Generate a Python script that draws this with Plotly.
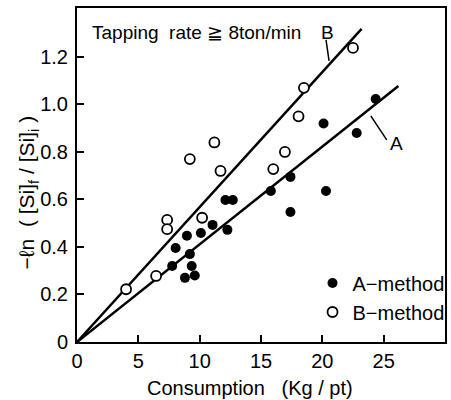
import plotly.graph_objects as go

# A-method (filled) points
a_x = [24.35, 22.8, 20.1, 20.3, 17.4, 15.8, 17.4, 12.1, 12.7, 11.05, 12.26, 10.1, 8.96, 8.04, 9.2, 7.76, 9.35, 8.8, 9.6]
a_y = [1.023, 0.88, 0.92, 0.636, 0.695, 0.636, 0.547, 0.598, 0.598, 0.493, 0.472, 0.459, 0.447, 0.396, 0.37, 0.32, 0.32, 0.27, 0.28]
# B-method (open) points
b_x = [22.5, 18.5, 18.06, 16.95, 16.0, 11.2, 9.2, 11.7, 10.2, 7.35, 7.35, 6.45, 4.0]
b_y = [1.238, 1.07, 0.95, 0.80, 0.728, 0.84, 0.77, 0.72, 0.523, 0.514, 0.475, 0.278, 0.222]
# fitted lines
line_a_x = [0, 26.2]
line_a_y = [0, 1.078]
line_b_x = [0, 23.2]
line_b_y = [0, 1.318]

x_ticks = [0, 5, 10, 15, 20, 25]
x_tick_text = ["0", "5", "10", "15", "20", "25"]
y_ticks = [0, 0.2, 0.4, 0.6, 0.8, 1.0, 1.2]
y_tick_text = ["0", "0.2", "0.4", "0.6", "0.8", "1.0", "1.2"]

FONT = "Liberation Sans"

fig = go.Figure()
fig.add_trace(go.Scatter(x=line_b_x, y=line_b_y, mode="lines",
                         line=dict(color="black", width=2.5), showlegend=False))
fig.add_trace(go.Scatter(x=line_a_x, y=line_a_y, mode="lines",
                         line=dict(color="black", width=2.5), showlegend=False))
fig.add_trace(go.Scatter(x=a_x, y=a_y, mode="markers", name="A\u2212method",
                         marker=dict(symbol="circle", size=10, color="black",
                                     line=dict(color="black", width=0))))
fig.add_trace(go.Scatter(x=b_x, y=b_y, mode="markers", name="B\u2212method",
                         marker=dict(symbol="circle", size=10, color="white",
                                     line=dict(color="black", width=1.8))))

# labels and leaders
fig.add_annotation(x=20.4, y=1.302, text="B", showarrow=False, xanchor="center",
                   yanchor="middle", font=dict(size=19, family=FONT, color="black"))
fig.add_annotation(x=26.05, y=0.834, text="A", showarrow=False, xanchor="center",
                   yanchor="middle", font=dict(size=19, family=FONT, color="black"))
fig.add_shape(type="line", x0=20.3, y0=1.272, x1=20.55, y1=1.183,
              line=dict(color="black", width=1.5))
fig.add_shape(type="line", x0=23.95, y0=0.952, x1=25.25, y1=0.851,
              line=dict(color="black", width=1.5))
fig.add_annotation(x=1.1, y=1.302, text="Tapping  rate \u2267 8ton/min", showarrow=False,
                   xanchor="left", yanchor="middle",
                   font=dict(size=19, family=FONT, color="black"))
# axis titles
fig.add_annotation(xref="paper", yref="paper", x=0.47, y=-0.138,
                   text="Consumption   (Kg / pt)", showarrow=False,
                   xanchor="center", yanchor="middle",
                   font=dict(size=20, family=FONT, color="black"))
fig.add_annotation(xref="paper", yref="paper", x=-0.132, y=0.449, textangle=-90,
                   text="\u2212\u2113n  ( [Si]<sub>f</sub> / [Si]<sub>i</sub> )", showarrow=False,
                   xanchor="center", yanchor="middle",
                   font=dict(size=21, family=FONT, color="black"))

axis_common = dict(showgrid=False, zeroline=False, showline=True, linecolor="black",
                   linewidth=2, mirror=True, ticks="inside", ticklen=7, tickwidth=1.5,
                   tickcolor="black", tickfont=dict(size=20, family=FONT, color="black"))

fig.update_xaxes(range=[0, 30], tickvals=x_ticks, ticktext=x_tick_text,
                 ticklabelstandoff=0, **axis_common)
fig.update_yaxes(range=[0, 1.406], tickvals=y_ticks, ticktext=y_tick_text,
                 ticklabelstandoff=3, **axis_common)

fig.update_layout(width=451, height=400,
                  margin=dict(l=77, r=6, t=8, b=58, autoexpand=False),
                  plot_bgcolor="white", paper_bgcolor="white",
                  legend=dict(x=0.64, y=0.235, xanchor="left", yanchor="top",
                              bgcolor="rgba(0,0,0,0)",
                              font=dict(size=20, family=FONT, color="black"),
                              itemwidth=30, tracegroupgap=0),
                  font=dict(family=FONT, color="black"))

fig.write_html("out.html", config={"displayModeBar": False},
               post_script="document.body.style.margin='0';"
                           "document.body.style.overflow='hidden';"
                           "document.documentElement.style.overflow='hidden';")
